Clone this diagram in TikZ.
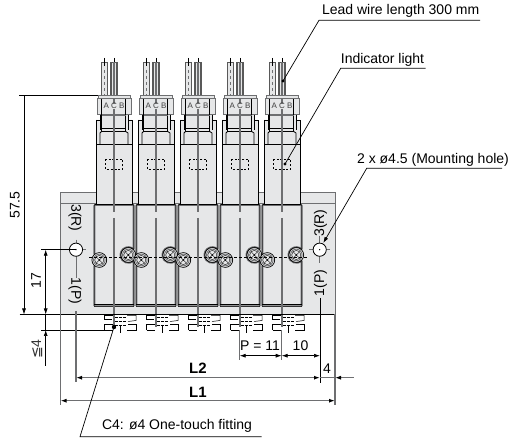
\documentclass[tikz,border=0pt]{standalone}
\usepackage{fontspec}
\setmainfont{Liberation Sans}
\newfontfamily\symfont{DejaVu Sans}
\usetikzlibrary{arrows.meta,calc}
\definecolor{bodygray}{HTML}{E6E7E8}
\definecolor{midgray}{HTML}{6E6F71}
\tikzset{
	lbl/.style={inner sep=0pt,font=\fontsize{14}{14}\selectfont},
	thinline/.style={black,line width=0.8pt},
	graycenter/.style={midgray,line width=1.2pt},
	dimline/.style={black,line width=0.7pt,{Latex[length=6pt,width=4pt]}-{Latex[length=6pt,width=4pt]}},
	dimgray/.style={midgray,line width=1.2pt,{Latex[black,length=6pt,width=4pt]}-{Latex[black,length=6pt,width=4pt]}},
	arrowend/.style={-{Latex[black,length=6pt,width=4pt]}},
	leader/.style={black,line width=0.7pt},
	fitting/.style={black,line width=0.5pt},
}
\newcommand{\makeport}[2]{
	\fill[bodygray, draw=black, line width=0.7pt] (#1,#2) circle (7.4);
	\draw[midgray, line width=0.8pt] (#1,#2) circle (5.8);
	\draw[black, line width=0.4pt] (#1,#2) circle (4.6);
	\draw[black, line width=0.4pt] ($(#1,#2)+(-3,-3)$) -- ($(#1,#2)+(3,3)$);
	\draw[black, line width=0.4pt] ($(#1,#2)+(3,-3)$) -- ($(#1,#2)+(-3,3)$);
	\fill (#1,#2) circle (0.9);
}
\newcommand{\makevalve}[1]{
	\begin{scope}[xshift=#1pt]
	% wires
	\draw[black!65, line width=1.1pt, fill=bodygray] (-12.6,96) -- (-12.6,62.5) -- (-6.4,62.5) -- (-6.4,96);
	\draw[black!65, line width=1.1pt, fill=bodygray] (-3,96) -- (-3,62.5) -- (3,62.5) -- (3,96);
	\draw[black, line width=0.6pt] (-9.5,58) -- (-9.5,66);
	\draw[black, line width=0.6pt] (0,58) -- (0,66);
	\draw[midgray, line width=0.6pt, dashed] (-9.5,70) -- (-9.5,96);
	% connector
	\draw[thinline, fill=bodygray] (-18,120) -- (-18,144) -- (18,144) -- (18,120) -- (14,120) -- (14,114) -- (-14,114) -- (-14,120) -- cycle;
	\draw[midgray, line width=1pt, fill=bodygray] (-17,115) rectangle (17,99);
	\draw[midgray, line width=1pt, fill=bodygray] (-16,99) rectangle (16,95.7);
	\draw[black, line width=0.5pt] (-12.5,99) -- (-12.5,131.5) -- (11.7,131.5) -- (11.7,99);
	\draw[black, line width=0.9pt] (-12.5,128.5) -- (11.7,128.5);
	\draw[midgray, line width=0.6pt] (-12.5,115) -- (11.7,115);
	\draw[black, line width=1pt] (-14,115) -- (-14,130);
	\draw[black, line width=1pt] (14,115) -- (14,130);
	\draw[black, line width=0.8pt] (-18,120) -- (-18,144);
	\draw[black, line width=0.8pt] (-14,144) -- (-14,133) -- (-12.5,131.5);
	\draw[black, line width=0.8pt] (14,144) -- (14,133) -- (11.7,131.5);
	% upper body
	\draw[thinline, fill=bodygray] (-18,144) rectangle (18,204);
	\draw[black, dashed, line width=0.6pt, dash pattern=on 2.2pt off 1.6pt] (-8.7,159.3) rectangle (8.7,169.3);
	% lower body
	\begin{scope}
	\path[clip] (-20,204.5) -- (20,204.5) -- (20,250.1) arc[start angle=-40.7,end angle=-319.3,radius=7.5] -- (20,306.7) -- (-20,306.7) -- (-20,265.3) arc[start angle=45,end angle=-45,radius=7.5] -- cycle;
	\fill[bodygray] (-21,204) rectangle (21,307);
	\draw[midgray, line width=2.6pt] (-20,204.5) -- (20,204.5) -- (20,250.1) arc[start angle=-40.7,end angle=-319.3,radius=7.5] -- (20,306.7) -- (-20,306.7) -- (-20,265.3) arc[start angle=45,end angle=-45,radius=7.5] -- cycle;
	\fill[midgray!75] (-21,303.8) rectangle (21,307);
	\end{scope}
	\draw[black, line width=0.6pt, rounded corners=1pt] (-20,204.5) -- (20,204.5) -- (20,250.1) arc[start angle=-40.7,end angle=-319.3,radius=7.5] -- (20,306.7) -- (-20,306.7) -- (-20,265.3) arc[start angle=45,end angle=-45,radius=7.5] -- cycle;
	\draw[black, line width=0.5pt] (-20,303.8) -- (20,303.8);
	% center line
	\draw[graycenter] (0,99) -- (0,104);
	\draw[graycenter] (0,109) -- (0,212);
	\draw[graycenter] (0,218) -- (0,315);
	\draw[graycenter] (0,62) -- (0,96);
	\node[inner sep=0pt, text=black!75, font=\fontsize{8}{8}\selectfont] (abc#1) at (0,106) {A C B};
	% fitting
	\draw[fitting] (-9.5,330) -- (-1.5,330);
	\draw[fitting] (-1.5,324) -- (-9.5,324) -- (-9.5,330);
	\draw[fitting] (-1.5,315.5) -- (-9.5,315.5) -- (-9.5,319.5) -- (-2,319.5);
	\draw[fitting] (13,315.5) -- (22,315.5) -- (22,320.5) -- (14,321.5);
	\draw[fitting] (14,324.5) -- (22,324.5) -- (22,330) -- (13,330);
	\draw[fitting, dash pattern=on 3pt off 1pt] (0.5,317.5) -- (11.5,317.5);
	\draw[fitting, dash pattern=on 3pt off 1pt] (0.5,321.5) -- (11.5,321.5);
	\draw[fitting, dash pattern=on 3pt off 1pt] (0.5,325.5) -- (11.5,325.5);
	\draw[fitting] (6,326) -- (6,333.5);
	\draw[graycenter] (0,315) -- (0,327);
	\end{scope}
}

\begin{document}
\begin{tikzpicture}[x=1pt,y=-1pt]
	\useasboundingbox (0,0) rectangle (509,438);

	\coordinate (holeL) at (76,249.7);
	\coordinate (holeR) at (319.7,249.7);
	\coordinate (plateBL) at (60.5,314.5);
	\coordinate (plateBR) at (335,314.5);

	% base plate
	\fill[bodygray] (60.5,192.5) rectangle (335,314.5);
	\draw[midgray, line width=1pt] (60.5,192.5) -- (335,192.5) -- (335,314.5);
	\draw[midgray, line width=1pt] (60.5,192.5) -- (60.5,314.5);
	\draw[midgray, line width=1pt] (60.5,204) -- (335,204);

	\foreach \x in {114,156,198,240,282} {
		\makevalve{\x}
	}
	\foreach \x in {114,156,198,240,282} {
		\makeport{\x-14.7}{260}
		\makeport{\x+14.3}{255}
	}
	\draw[black, line width=0.6pt, dash pattern=on 3pt off 2pt] (89,257) -- (308,257);

	% mounting holes
	\draw[midgray, line width=0.9pt] (holeL) ++(-10,0) -- ++(20,0);
	\draw[midgray, line width=0.9pt] (holeL) ++(0,-10) -- ++(0,38);
	\draw[midgray, line width=0.9pt] (holeR) ++(-10.5,0) -- ++(21,0);
	\draw[midgray, line width=0.9pt] (holeR) ++(0,-14) -- ++(0,27);
	\draw[thinline, fill=white] (holeL) circle (6.6);
	\draw[thinline, fill=white] (holeR) circle (6.6);
	\fill (holeL) circle (0.7);
	\fill (holeR) circle (0.7);

	\node[lbl, rotate=-90] (portRL) at (75,218) {3(R)};
	\node[lbl, rotate=-90] (portPL) at (75,291) {1(P)};
	\node[lbl, rotate=90] (portRR) at (320.5,223) {3(R)};
	\node[lbl, rotate=90] (portPR) at (320.5,283) {1(P)};

	% extension lines
	\draw[thinline] (19,95.7) -- (98,95.7);
	\draw[thinline] (19.5,314.5) -- (335,314.5);
	\draw[thinline] (41,249.7) -- (holeL);
	\draw[thinline] (41,330) -- (112,330);
	\draw[graycenter] (60.5,314.5) -- (60.5,404.7);
	\draw[graycenter] (76,311) -- (76,381.7);
	\draw[thinline] (320,298) -- (320,383);
	\draw[graycenter] (335,314.5) -- (335,404.7);
	\draw[midgray, line width=1pt] (239.7,330) -- (239.7,360);
	\draw[midgray, line width=1pt] (281.7,330) -- (281.7,360);

	% dimensions
	\draw[black, line width=0.7pt, arrowend] (24,95.7) -- (24,314.5);
	\draw[dimline] (45.7,249.7) -- (45.7,314.5);
	\draw[black, line width=0.7pt] (45.7,314.5) -- (45.7,330);
	\draw[black, line width=0.7pt, arrowend] (45.7,366) -- (45.7,330);
	\draw[dimline] (239.7,355.7) -- (281.7,355.7);
	\draw[dimline] (281.7,355.7) -- (320,355.7);
	\draw[dimgray] (76,377.7) -- (320,377.7);
	\draw[dimgray] (60.5,400.7) -- (335,400.7);
	\draw[midgray, line width=1pt] (320,377.7) -- (335,377.7);
	\draw[midgray, line width=1pt, arrowend] (353.5,377.7) -- (335,377.7);

	\node[lbl, rotate=90] (dimH) at (15,205) {57.5};
	\node[lbl, rotate=90] (dimSeventeen) at (36,280.7) {17};
	\node[lbl, rotate=90, text=black!80] (dimFour) at (37,349) {{\symfont ≦}4};
	\node[lbl] (dimP) at (260,346) {P = 11};
	\node[lbl] (dimTen) at (300.5,346) {10};
	\node[lbl] (dimEnd) at (327,369) {4};
	\node[lbl, font=\fontsize{15}{15}\selectfont\bfseries] (dimLtwo) at (198,368.5) {L2};
	\node[lbl, font=\fontsize{15}{15}\selectfont\bfseries] (dimLone) at (198,392) {L1};

	% callouts
	\node[lbl] (wireLabel) at (400.7,11) {Lead wire length 300 mm};
	\node[lbl] (lightLabel) at (382.5,59.5) {Indicator light};
	\node[lbl] (holeLabel) at (433,160) {2 x ø4.5 (Mounting hole)};
	\node[lbl] (fittingLabel) at (177,426) {C4: ø4 One-touch fitting};

	\coordinate (wireTip) at (283,81);
	\coordinate (wireBend) at (319,20.3);
	\coordinate (wireEnd) at (480,20.3);
	\coordinate (lightTip) at (285,164);
	\coordinate (lightBend) at (340.7,68.3);
	\coordinate (lightEnd) at (425.7,68.3);
	\coordinate (holeTip) at (323.3,243);
	\coordinate (holeBend) at (366.7,168.3);
	\coordinate (holeEnd) at (502,168.3);
	\coordinate (fittingTip) at (114,327);
	\coordinate (fittingBend) at (80,436.7);
	\coordinate (fittingEnd) at (261.7,436.7);

	\draw[leader] (wireTip) -- (wireBend) -- (wireEnd);
	\fill (wireTip) circle (1.6);
	\draw[leader] (lightTip) -- (lightBend) -- (lightEnd);
	\fill (lightTip) circle (1.6);
	\draw[leader, {Latex[length=6pt,width=4pt]}-] (holeTip) -- (holeBend) -- (holeEnd);
	\draw[leader] (fittingTip) -- (fittingBend) -- (fittingEnd);
	\fill (fittingTip) circle (2.2);
\end{tikzpicture}
\end{document}
